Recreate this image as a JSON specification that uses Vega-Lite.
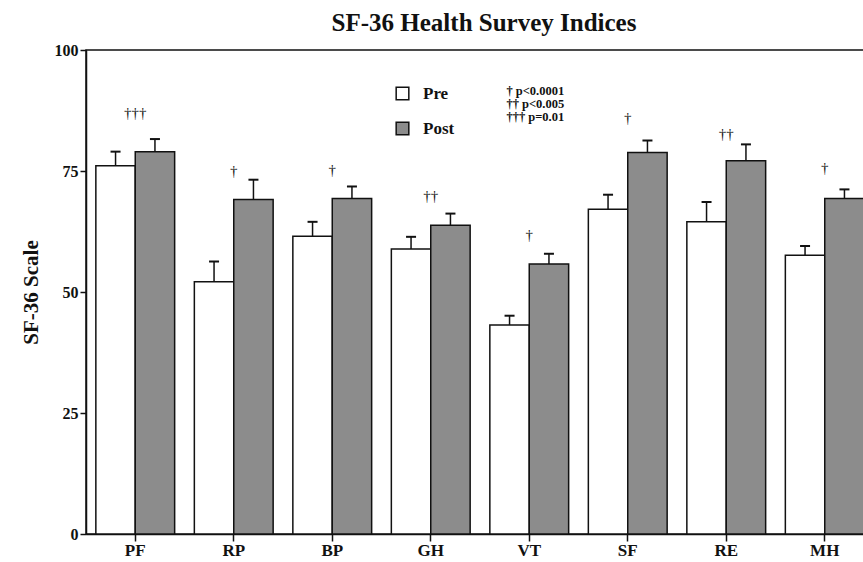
{
  "$schema": "https://vega.github.io/schema/vega-lite/v6.json",
  "autosize": {"type": "none"},
  "padding": {"left": 86, "top": 50, "right": 0, "bottom": 29},
  "width": 788,
  "height": 484,
  "background": "white",
  "title": {
    "text": "SF-36 Health Survey Indices",
    "font": "Liberation Serif",
    "fontSize": 25,
    "fontWeight": "bold",
    "color": "#111",
    "anchor": "middle",
    "dx": 4,
    "offset": 6
  },
  "config": {
    "view": {"stroke": "#111", "strokeWidth": 1.5},
    "font": "Liberation Serif",
    "axis": {"grid": false, "domainColor": "#111", "tickColor": "#111", "domainWidth": 1.5, "tickWidth": 1.5, "labelColor": "#111", "titleColor": "#111"}
  },
  "datasets": {
    "bars": [
      {"scale": "PF", "phase": "Pre", "mean": 76.1, "upper": 79.0},
      {"scale": "PF", "phase": "Post", "mean": 79.0, "upper": 81.6},
      {"scale": "RP", "phase": "Pre", "mean": 52.1, "upper": 56.3},
      {"scale": "RP", "phase": "Post", "mean": 69.1, "upper": 73.2},
      {"scale": "BP", "phase": "Pre", "mean": 61.5, "upper": 64.5},
      {"scale": "BP", "phase": "Post", "mean": 69.3, "upper": 71.8},
      {"scale": "GH", "phase": "Pre", "mean": 58.9, "upper": 61.4},
      {"scale": "GH", "phase": "Post", "mean": 63.8, "upper": 66.2},
      {"scale": "VT", "phase": "Pre", "mean": 43.2, "upper": 45.1},
      {"scale": "VT", "phase": "Post", "mean": 55.8, "upper": 57.9},
      {"scale": "SF", "phase": "Pre", "mean": 67.1, "upper": 70.1},
      {"scale": "SF", "phase": "Post", "mean": 78.8, "upper": 81.3},
      {"scale": "RE", "phase": "Pre", "mean": 64.5, "upper": 68.6},
      {"scale": "RE", "phase": "Post", "mean": 77.1, "upper": 80.5},
      {"scale": "MH", "phase": "Pre", "mean": 57.6, "upper": 59.5},
      {"scale": "MH", "phase": "Post", "mean": 69.3, "upper": 71.2}
    ],
    "sig": [
      {"scale": "PF", "mark": "†††", "pos": 86.9},
      {"scale": "RP", "mark": "†", "pos": 75.0},
      {"scale": "BP", "mark": "†", "pos": 75.3},
      {"scale": "GH", "mark": "††", "pos": 69.9},
      {"scale": "VT", "mark": "†", "pos": 61.7},
      {"scale": "SF", "mark": "†", "pos": 86.0},
      {"scale": "RE", "mark": "††", "pos": 82.7},
      {"scale": "MH", "mark": "†", "pos": 75.7}
    ],
    "notes": [
      {"scale": "VT", "note": "† p<0.0001", "pos": 91.6},
      {"scale": "VT", "note": "†† p<0.005", "pos": 88.9},
      {"scale": "VT", "note": "††† p=0.01", "pos": 86.2}
    ]
  },
  "encoding": {
    "x": {
      "field": "scale",
      "type": "nominal",
      "sort": ["PF", "RP", "BP", "GH", "VT", "SF", "RE", "MH"],
      "scale": {"paddingInner": 0.2, "paddingOuter": 0.1},
      "axis": {"title": null, "labelAngle": 0, "labelFont": "Liberation Serif", "labelFontWeight": "bold", "labelFontSize": 17, "tickSize": 7, "labelPadding": 1}
    }
  },
  "layer": [
    {
      "data": {"name": "bars"},
      "mark": {"type": "bar", "stroke": "#111", "strokeWidth": 1.5},
      "encoding": {
        "xOffset": {"field": "phase", "type": "nominal", "sort": ["Pre", "Post"]},
        "y": {
          "field": "mean",
          "type": "quantitative",
          "scale": {"domain": [0, 100]},
          "axis": {"values": [0, 25, 50, 75, 100], "title": "SF-36 Scale", "titleFont": "Liberation Serif", "titleFontSize": 21, "titleFontWeight": "bold", "titlePadding": 13, "labelFont": "Liberation Serif", "labelFontWeight": "bold", "labelFontSize": 16, "tickSize": 6, "labelPadding": 2}
        },
        "fill": {
          "field": "phase",
          "type": "nominal",
          "scale": {"domain": ["Pre", "Post"], "range": ["#ffffff", "#8c8c8c"]},
          "legend": {"title": null, "orient": "none", "legendX": 308, "legendY": 35, "symbolType": "square", "symbolSize": 160, "symbolStrokeColor": "#111", "symbolStrokeWidth": 1.5, "symbolOpacity": 1, "labelFont": "Liberation Serif", "labelFontWeight": "bold", "labelFontSize": 17, "labelColor": "#111", "labelOffset": 12, "rowPadding": 16}
        }
      }
    },
    {
      "data": {"name": "bars"},
      "mark": {"type": "rule", "stroke": "#111", "strokeWidth": 1.5},
      "encoding": {
        "xOffset": {"field": "phase", "type": "nominal", "sort": ["Pre", "Post"]},
        "y": {"field": "mean", "type": "quantitative"},
        "y2": {"field": "upper"}
      }
    },
    {
      "data": {"name": "bars"},
      "mark": {"type": "tick", "color": "#111", "size": 10, "thickness": 2, "opacity": 1},
      "encoding": {
        "xOffset": {"field": "phase", "type": "nominal", "sort": ["Pre", "Post"]},
        "y": {"field": "upper", "type": "quantitative"}
      }
    },
    {
      "data": {"name": "sig"},
      "mark": {"type": "text", "font": "Liberation Serif", "fontSize": 15, "fontWeight": "normal", "color": "#111", "baseline": "middle", "align": "center"},
      "encoding": {
        "y": {"field": "pos", "type": "quantitative"},
        "text": {"field": "mark"}
      }
    },
    {
      "data": {"name": "notes"},
      "mark": {"type": "text", "font": "Liberation Serif", "fontSize": 12.5, "fontWeight": "bold", "color": "#111", "baseline": "middle", "align": "right", "dx": 35},
      "encoding": {
        "y": {"field": "pos", "type": "quantitative"},
        "text": {"field": "note"}
      }
    }
  ]
}
